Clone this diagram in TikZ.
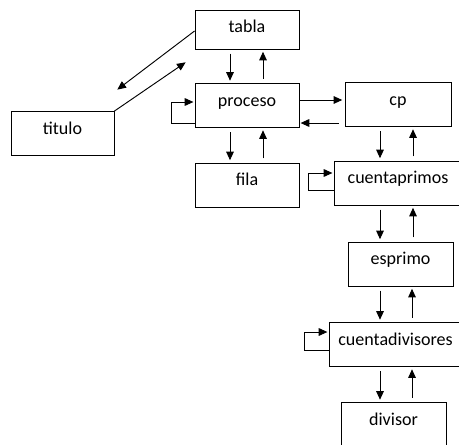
\documentclass[tikz,border=0pt]{standalone}
\usepackage{fontspec}
\setmainfont{Carlito}
\usepackage{tikz}
\usetikzlibrary{arrows.meta,calc}
\tikzset{
  modulo/.style={draw=black,line width=0.75pt,inner sep=0pt,
    text height=0.68cm,text depth=0.64cm,font=\fontsize{15.4}{18}\selectfont},
  flecha/.style={-{Triangle[length=2.6mm,width=2.3mm]},line width=0.8pt,
    shorten <=3.5pt,shorten >=2pt},
  lazo/.style={-{Triangle[length=2.6mm,width=2.3mm]},line width=0.8pt,shorten >=1pt}
}
\begin{document}
\begin{tikzpicture}[x=0.03cm,y=-0.03cm]
  \clip (0,0) rectangle (459,444);

  \node[modulo, minimum width=3.12cm, text depth=0.49cm] (tabla) at (247,29.5) {tabla};
  \node[modulo, minimum width=3.12cm] (proceso) at (247,105.5) {proceso};
  \node[modulo, minimum width=3.12cm] (fila) at (247,185) {fila};
  \node[modulo, minimum width=3.09cm] (titulo) at (62.5,133.5) {titulo};
  \node[modulo, minimum width=3.18cm] (cp) at (398,104.5) {cp};
  \node[modulo, minimum width=3.84cm] (cuentaprimos) at (398,183) {cuentaprimos};
  \node[modulo, minimum width=3.15cm] (esprimo) at (400.5,264) {esprimo};
  \node[modulo, minimum width=3.99cm] (cuentadivisores) at (395.5,344.5) {cuentadivisores};
  \node[modulo, minimum width=3.15cm] (divisor) at (393.5,424.5) {divisor};

  % titulo <-> tabla
  \draw[flecha, shorten <=0pt] ($(tabla.west)+(0,1.5)$) -- ($(titulo.north east)+(1,-20)$);
  \draw[flecha, shorten <=0pt] (titulo.north east) -- ($(tabla.west)+(-7,31.5)$);

  % llamadas verticales
  \draw[flecha] ($(tabla.south)+(-17,0)$) -- ($(proceso.north)+(-17,0)$);
  \draw[flecha] ($(proceso.north)+(16,0)$) -- ($(tabla.south)+(16,0)$);
  \draw[flecha] ($(proceso.south)+(-17,0)$) -- ($(fila.north)+(-17,0)$);
  \draw[flecha] ($(fila.north)+(16,0)$) -- ($(proceso.south)+(16,0)$);
  \draw[flecha] ($(cp.south)+(-18,0)$) -- ($(cuentaprimos.north)+(-18,0)$);
  \draw[flecha] ($(cuentaprimos.north)+(15,0)$) -- ($(cp.south)+(15,0)$);
  \draw[flecha] ($(cuentaprimos.south)+(-18,0)$) -- ($(esprimo.north)+(-20.5,0)$);
  \draw[flecha] ($(esprimo.north)+(12.5,0)$) -- ($(cuentaprimos.south)+(15,0)$);
  \draw[flecha] ($(esprimo.south)+(-20.5,0)$) -- ($(cuentadivisores.north)+(-15.5,0)$);
  \draw[flecha] ($(cuentadivisores.north)+(16.5,0)$) -- ($(esprimo.south)+(11.5,0)$);
  \draw[flecha] ($(cuentadivisores.south)+(-15.5,0)$) -- ($(divisor.north)+(-13.5,0)$);
  \draw[flecha] ($(divisor.north)+(18.5,0)$) -- ($(cuentadivisores.south)+(16.5,0)$);

  % proceso <-> cp
  \draw[flecha, shorten <=0pt] ($(proceso.east)+(0,-5.5)$) -- ($(cp.west)+(0,-4.5)$);
  \draw[flecha, shorten <=5pt, shorten >=1pt] ($(cp.west)+(0,18.5)$) -- ($(proceso.east)+(0,17.5)$);

  % recursion
  \draw[lazo] ($(proceso.west)+(0,17.5)$) -- ++(-23,0) |- ($(proceso.west)+(0,-3.5)$);
  \draw[lazo] ($(cuentaprimos.west)+(0,7)$) -- ++(-25,0) |- ($(cuentaprimos.west)+(0,-10)$);
  \draw[lazo] ($(cuentadivisores.west)+(0,5.5)$) -- ++(-24,0) |- ($(cuentadivisores.west)+(0,-12.5)$);
\end{tikzpicture}
\end{document}
